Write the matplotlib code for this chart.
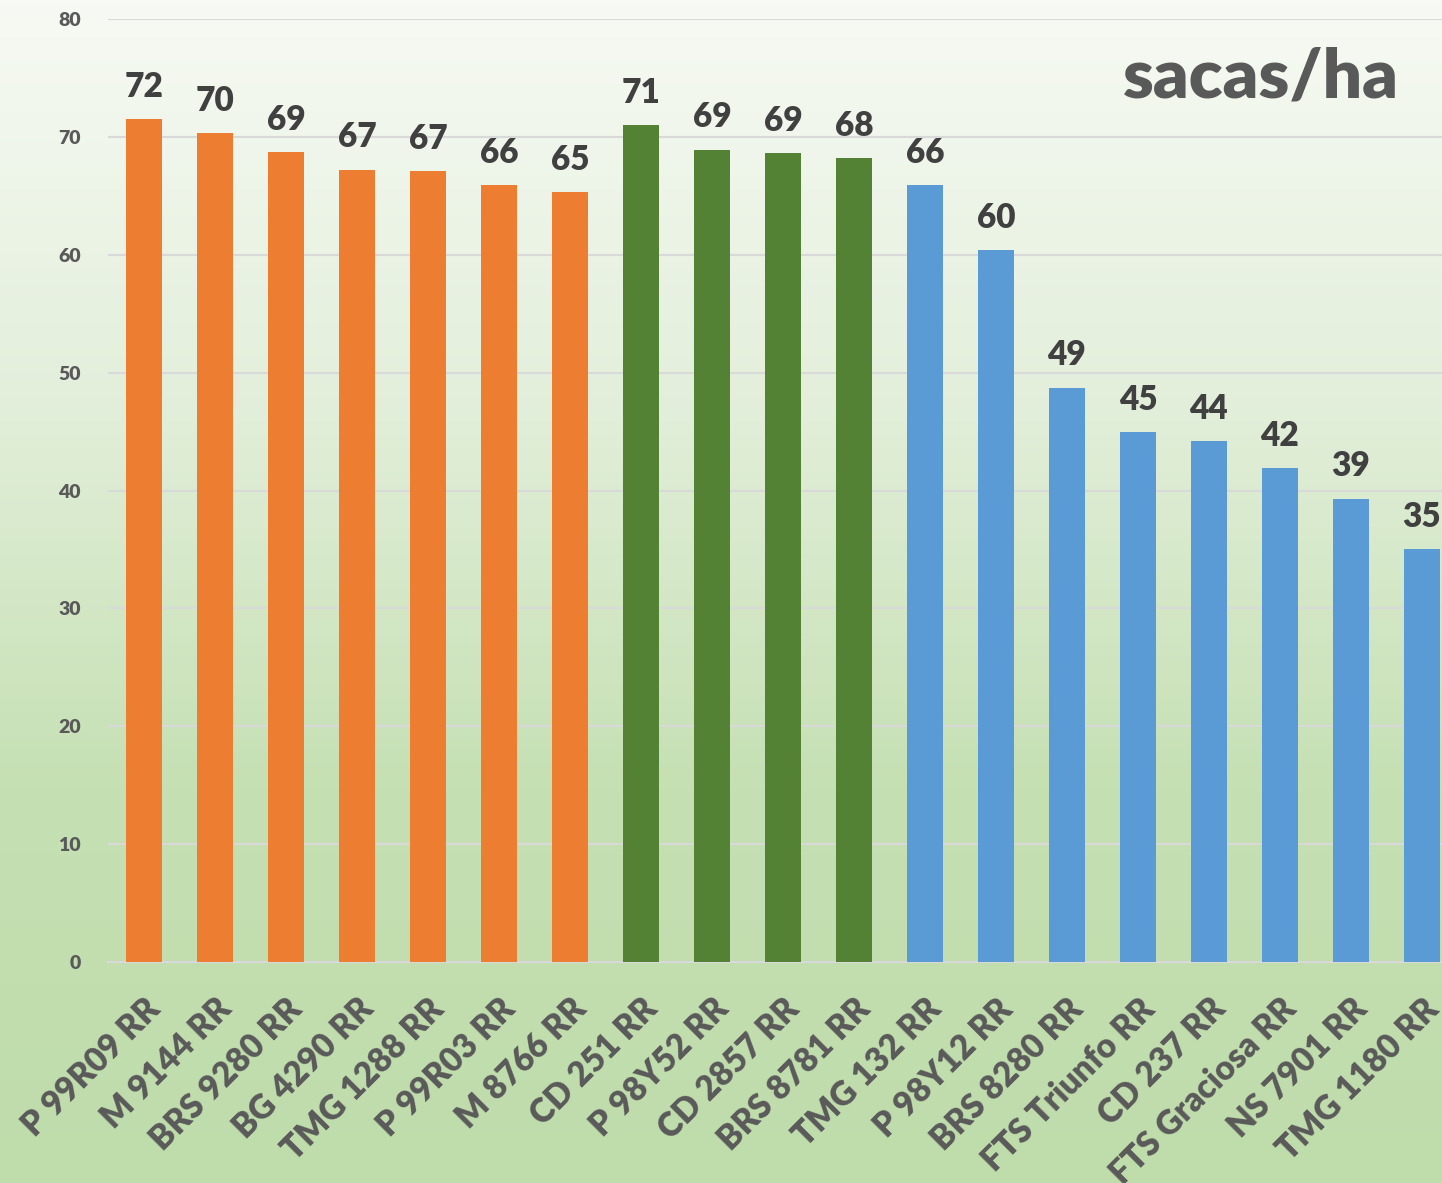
import numpy as np
import matplotlib.pyplot as plt
from matplotlib.colors import LinearSegmentedColormap

# dados
cultivares = ['P 99R09 RR', 'M 9144 RR', 'BRS 9280 RR', 'BG 4290 RR', 'TMG 1288 RR',
              'P 99R03 RR', 'M 8766 RR', 'CD 251 RR', 'P 98Y52 RR', 'CD 2857 RR',
              'BRS 8781 RR', 'TMG 132 RR', 'P 98Y12 RR', 'BRS 8280 RR', 'FTS Triunfo RR',
              'CD 237 RR', 'FTS Graciosa RR', 'NS 7901 RR', 'TMG 1180 RR']
produtividade = [71.5, 70.3, 68.7, 67.2, 67.1, 65.9, 65.3, 71.0, 68.9, 68.6,
                 68.2, 65.9, 60.4, 48.7, 44.95, 44.2, 41.9, 39.3, 35.0]
grupo = [0, 0, 0, 0, 0, 0, 0, 1, 1, 1, 1, 2, 2, 2, 2, 2, 2, 2, 2]
cores_grupo = ['#ED7D31', '#548235', '#5B9BD5']

plt.rcParams['font.family'] = ['Lato', 'DejaVu Sans']

fig = plt.figure(figsize=(14.42, 11.83), dpi=100)

# fundo em degrade (branco em cima, verde embaixo)
bg = fig.add_axes([0, 0, 1, 1], zorder=-10)
cmap = LinearSegmentedColormap.from_list('fundo', ['#f7faf4', '#e3efdb', '#c5e0b3', '#bfdcab'])
grad = np.linspace(0, 1, 256).reshape(-1, 1)
bg.imshow(grad, aspect='auto', cmap=cmap, extent=[0, 1, 0, 1], origin='upper')
bg.axis('off')

ax = fig.add_axes([0.0752, 0.1868, 0.9355, 0.7971])
ax.patch.set_alpha(0)

x = np.arange(len(cultivares))
cores = [cores_grupo[g] for g in grupo]
ax.bar(x, produtividade, width=0.51, color=cores, zorder=3)

for xi, v in zip(x, produtividade):
    ax.text(xi, v + 1.4, f'{v:.0f}', ha='center', va='bottom', fontsize=24,
            fontweight='heavy', color='#404040', zorder=4)

ax.set_xlim(-0.5, len(cultivares) - 0.5)
ax.set_ylim(0, 80)
ax.set_yticks(range(0, 81, 10))
ax.yaxis.grid(True, color='#d9d9d9', linewidth=1.5, zorder=0)
ax.set_axisbelow(True)
for s in ['top', 'right', 'left']:
    ax.spines[s].set_visible(False)
ax.spines['bottom'].set_color('#d9d9d9')
ax.spines['bottom'].set_linewidth(1.5)

ax.tick_params(axis='both', length=0)
ax.tick_params(axis='y', labelsize=14, labelcolor='#595959', pad=20)
for t in ax.get_yticklabels():
    t.set_fontweight('heavy')

ax.set_xticks(x)
ax.set_xticklabels(cultivares, rotation=45, ha='right', va='top', rotation_mode='anchor',
                   fontsize=24, fontweight='heavy', color='#595959')
ax.tick_params(axis='x', pad=22)

fig.text(0.97, 0.918, 'sacas/ha', ha='right', va='baseline', fontsize=50,
         fontweight='heavy', color='#595959')

fig.savefig('out.png', dpi=100)
